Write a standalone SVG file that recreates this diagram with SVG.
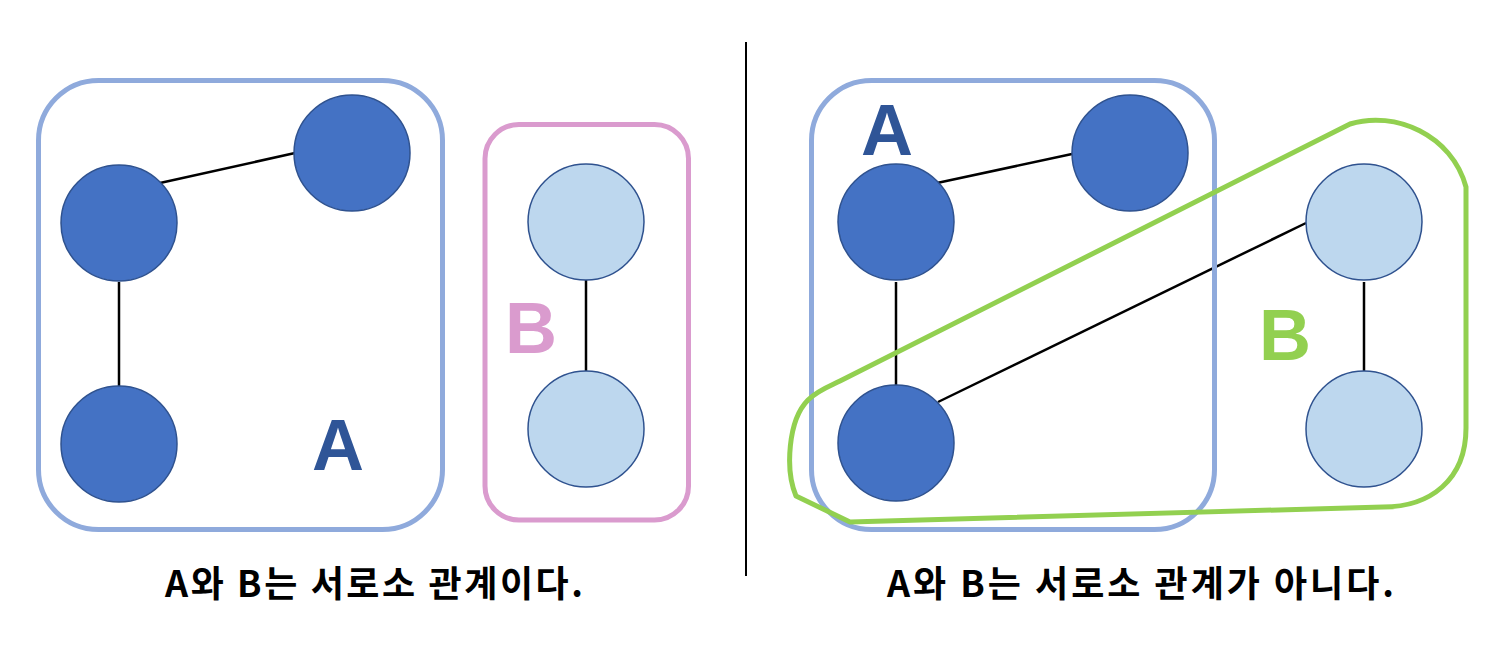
<svg xmlns="http://www.w3.org/2000/svg" width="1507" height="646" viewBox="0 0 1507 646">
<style>
.dk{fill:#4472C4;stroke:#2F528F;stroke-width:1.5}
.lt{fill:#BDD7EE;stroke:#2F528F;stroke-width:1.5}
.edge{stroke:#000;stroke-width:2.5;fill:none}
.grpA{fill:none;stroke:#8FAADC;stroke-width:5}
.big{font-family:"Liberation Sans",Arial,sans-serif;font-weight:bold;font-size:72px;text-anchor:middle}
.cap{font-family:"Noto Sans CJK KR","Noto Sans",sans-serif;font-weight:bold;font-size:36px;fill:#000}
</style>
<rect width="1507" height="646" fill="#fff"/>
<g id="connectors">
<line class="edge" x1="160" y1="183" x2="295" y2="153"/>
<line class="edge" x1="119" y1="282" x2="119" y2="386"/>
<line class="edge" x1="586" y1="280" x2="586" y2="371"/>
<line class="edge" x1="937" y1="183" x2="1072" y2="154"/>
<line class="edge" x1="896" y1="282" x2="896" y2="386"/>
<line class="edge" x1="938" y1="402" x2="1306" y2="223"/>
<line class="edge" x1="1364" y1="282" x2="1364" y2="371"/>
</g>
<g id="left-group-A"><rect class="grpA" x="38.5" y="80.5" width="404" height="449" rx="60"/></g>
<g id="left-group-B"><rect x="485" y="124.5" width="203.5" height="395.5" rx="34" fill="none" stroke="#DA9BCE" stroke-width="5"/></g>
<g id="L1"><circle class="dk" cx="119" cy="223" r="58"/></g>
<g id="L2"><circle class="dk" cx="352" cy="153" r="58"/></g>
<g id="L3"><circle class="dk" cx="119" cy="444" r="58"/></g>
<g id="L4"><circle class="lt" cx="586" cy="222" r="58"/></g>
<g id="L5"><circle class="lt" cx="586" cy="429" r="58"/></g>
<g id="left-labels">
<text class="big" x="338" y="470" fill="#2F5597">A</text>
<text class="big" x="531" y="353" fill="#DA9BCE">B</text>
<text class="cap" x="165" y="597" textLength="418" lengthAdjust="spacing">A와 B는 서로소 관계이다.</text>
</g>
<g id="divider"><line x1="746" y1="42" x2="746" y2="576" stroke="#000" stroke-width="2"/></g>
<g id="right-group-A"><rect class="grpA" x="811.5" y="80.5" width="403" height="449" rx="60"/></g>
<g id="right-group-B"><path d="M840,381 L1350,124 C1395,110 1452,135 1466,187 L1466,428 C1466,480 1430,507 1383,507 L850,522 L796,496 C785,470 788,420 808,400 C818,390 830,386 840,381 Z" fill="none" stroke="#92D050" stroke-width="5" stroke-linejoin="round"/></g>
<g id="R1"><circle class="dk" cx="896" cy="222" r="58"/></g>
<g id="R2"><circle class="dk" cx="1130" cy="153" r="58"/></g>
<g id="R3"><circle class="dk" cx="896" cy="443" r="58"/></g>
<g id="R4"><circle class="lt" cx="1364" cy="222" r="58"/></g>
<g id="R5"><circle class="lt" cx="1364" cy="429" r="58"/></g>
<g id="right-labels">
<text class="big" x="887" y="155" fill="#2F5597">A</text>
<text class="big" x="1285" y="360" fill="#92D050">B</text>
<text class="cap" x="887" y="597" textLength="507" lengthAdjust="spacing">A와 B는 서로소 관계가 아니다.</text>
</g>
</svg>
